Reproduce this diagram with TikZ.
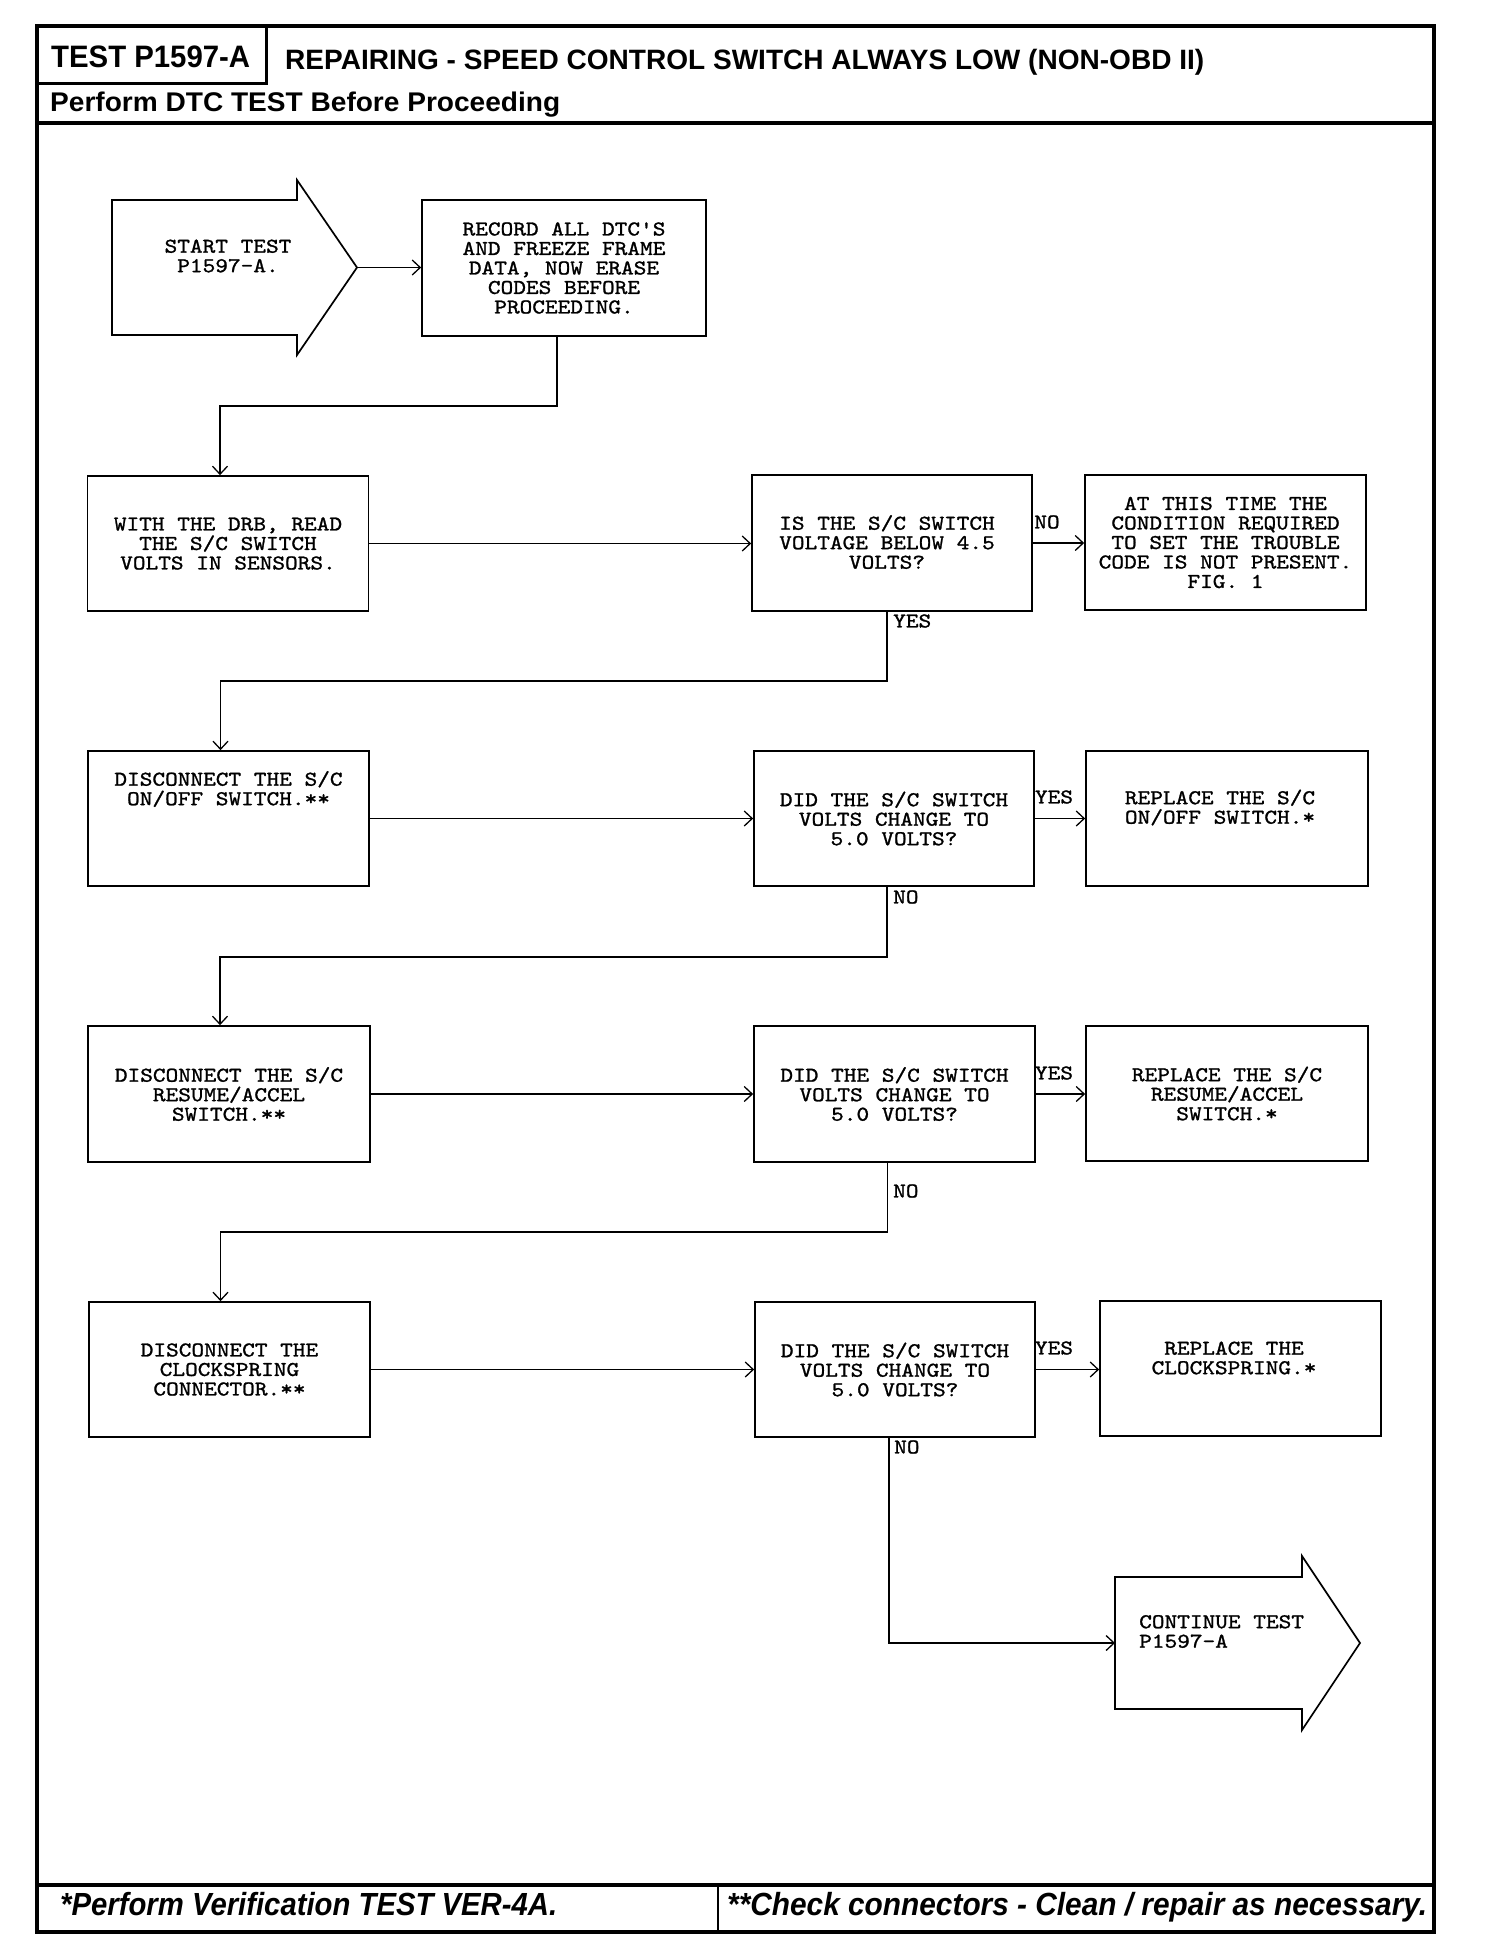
\documentclass[tikz,border=0pt]{standalone}
\usepackage{fontspec}
\usepackage{graphicx}
\usetikzlibrary{arrows.meta}
\newfontfamily\hdrfont{Liberation Sans}
\newfontfamily\boxfont{lmmono10-regular.otf}[FakeStretch=1.15,FakeBold=1.2]
\newcommand\fitw[2]{\resizebox{#1}{\height}{#2}}
\begin{document}
\begin{tikzpicture}[x=1pt,y=-1pt,
  blk/.style={draw, line width=1.7pt, minimum width=281pt, minimum height=135pt, inner sep=0pt,
              align=center, font=\boxfont\fontsize{21}{19.5}\selectfont},
  txt/.style={inner sep=0pt, align=center, font=\boxfont\fontsize{21}{19.5}\selectfont},
  lbl/.style={inner sep=0pt, font=\boxfont\fontsize{21}{19.5}\selectfont},
  conn/.style={line width=1.5pt, -{Straight Barb[length=8pt,width=15pt,line width=1.3pt]}},
  shp/.style={draw, line width=1.7pt, line join=miter},
  frame/.style={draw, line width=3.5pt},
  hdr/.style={inner sep=0pt, font=\hdrfont\bfseries},
  ftr/.style={inner sep=0pt, font=\hdrfont\bfseries\itshape}]
\useasboundingbox (0,0) rectangle (1504,1960);
\fill[white] (0,0) rectangle (1504,1960);

% ---- frame, header, footer ----
\draw[frame] (37,26) rectangle (1434,1932);
\draw[line width=3pt] (37,83) -- (266,83) -- (266,26);
\draw[frame] (37,123) -- (1434,123);
\draw[frame] (37,1885) -- (1434,1885);
\draw[line width=2pt] (718,1885) -- (718,1932);
\node[hdr, anchor=base west] (hid) at (51,67) {\fitw{199pt}{\fontsize{31}{30}\selectfont TEST P1597-A}};
\node[hdr, anchor=base west] (htitle) at (285,69) {\fitw{919pt}{\fontsize{28}{30}\selectfont REPAIRING - SPEED CONTROL SWITCH ALWAYS LOW (NON-OBD II)}};
\node[hdr, anchor=base west] (hsub) at (50,111) {\fitw{510pt}{\fontsize{27}{30}\selectfont Perform DTC TEST Before Proceeding}};
\node[ftr, anchor=base west] (fl) at (60,1915) {\fitw{497pt}{\fontsize{32}{30}\selectfont *Perform Verification TEST VER-4A.}};
\node[ftr, anchor=base west] (fr) at (727,1915) {\fitw{700pt}{\fontsize{32}{30}\selectfont **Check connectors - Clean / repair as necessary.}};

% ---- start arrow ----
\draw[shp] (112,200) -- (297,200) -- (297,180) -- (357,267.5) -- (297,355) -- (297,335) -- (112,335) -- cycle;
\coordinate (starttip) at (357,267.5);
\node[txt] (start) at (228,256) {START TEST\\P1597-A.};

% ---- boxes ----
\node[blk, minimum width=284pt, minimum height=136pt] (rec) at (564,268)
  {RECORD ALL DTC'S\\AND FREEZE FRAME\\DATA, NOW ERASE\\CODES BEFORE\\PROCEEDING.};

\node[blk] (read) at (228,543.5) {WITH THE DRB, READ\\THE S/C SWITCH\\VOLTS IN SENSORS.};
\node[blk, minimum width=280pt, minimum height=136pt] (q1) at (892,543) {};
\node[txt] (q1t) at (887,542) {IS THE S/C SWITCH\\VOLTAGE BELOW 4.5\\VOLTS?};
\node[blk] (r1) at (1225.5,542.5) {AT THIS TIME THE\\CONDITION REQUIRED\\TO SET THE TROUBLE\\CODE IS NOT PRESENT.\\FIG. 1};

\node[blk] (b2) at (228.5,818.5) {};
\node[txt] (b2t) at (228.5,789) {DISCONNECT THE S/C\\ON/OFF SWITCH.**};
\node[blk, minimum width=280pt] (q2) at (894,818.5) {DID THE S/C SWITCH\\VOLTS CHANGE TO\\5.0 VOLTS?};
\node[blk, minimum width=282pt] (r2) at (1227,818.5) {};
\node[txt] (r2t) at (1220,807.5) {REPLACE THE S/C\\ON/OFF SWITCH.*};

\node[blk, minimum width=282pt, minimum height=136pt] (b3) at (229,1094) {DISCONNECT THE S/C\\RESUME/ACCEL\\SWITCH.**};
\node[blk, minimum height=136pt] (q3) at (894.5,1094) {DID THE S/C SWITCH\\VOLTS CHANGE TO\\5.0 VOLTS?};
\node[blk, minimum width=282pt] (r3) at (1227,1093.5) {REPLACE THE S/C\\RESUME/ACCEL\\SWITCH.*};

\node[blk] (b4) at (229.5,1369.5) {DISCONNECT THE\\CLOCKSPRING\\CONNECTOR.**};
\node[blk, minimum width=280pt] (q4) at (895,1369.5) {DID THE S/C SWITCH\\VOLTS CHANGE TO\\5.0 VOLTS?};
\node[blk] (r4) at (1240.5,1368.5) {};
\node[txt] (r4t) at (1234,1358) {REPLACE THE\\CLOCKSPRING.*};

% ---- continue arrow ----
\draw[shp] (1115,1577) -- (1302,1577) -- (1302,1556) -- (1360,1643) -- (1302,1730) -- (1302,1709) -- (1115,1709) -- cycle;
\coordinate (contin) at (1115,1643);
\node[txt, align=left, anchor=west] (cont) at (1139,1631.5) {CONTINUE TEST\\P1597-A};

% ---- connectors ----
\draw[conn] (starttip) -- (starttip -| rec.west);
\draw[conn] ([xshift=-7pt]rec.south) -- ++(0,69) -| ([xshift=-8pt]read.north);

\draw[conn] (read.east) -- (read.east -| q1.west);
\draw[conn] (q1.east) -- (q1.east -| r1.west);
\draw[conn] ([xshift=-5pt]q1.south) -- ++(0,69) -| ([xshift=-8pt]b2.north);

\draw[conn] (b2.east) -- (b2.east -| q2.west);
\draw[conn] (q2.east) -- (q2.east -| r2.west);
\draw[conn] ([xshift=-7pt]q2.south) -- ++(0,70) -| ([xshift=-9pt]b3.north);

\draw[conn] (b3.east) -- (b3.east -| q3.west);
\draw[conn] (q3.east) -- (q3.east -| r3.west);
\draw[conn] ([xshift=-7pt]q3.south) -- ++(0,69) -| ([xshift=-9pt]b4.north);

\draw[conn] (b4.east) -- (b4.east -| q4.west);
\draw[conn] (q4.east) -- (q4.east -| r4.west);
\draw[conn] ([xshift=-6pt]q4.south) |- (contin);

% ---- labels ----
\node[lbl] (l1no) at (1047,522) {NO};
\node[lbl, anchor=west] (l1yes) at (893,621) {YES};
\node[lbl] (l2yes) at (1054,797) {YES};
\node[lbl, anchor=west] (l2no) at (893,897) {NO};
\node[lbl] (l3yes) at (1054,1073) {YES};
\node[lbl, anchor=west] (l3no) at (893,1191) {NO};
\node[lbl] (l4yes) at (1054,1348) {YES};
\node[lbl, anchor=west] (l4no) at (894,1447) {NO};
\end{tikzpicture}
\end{document}
